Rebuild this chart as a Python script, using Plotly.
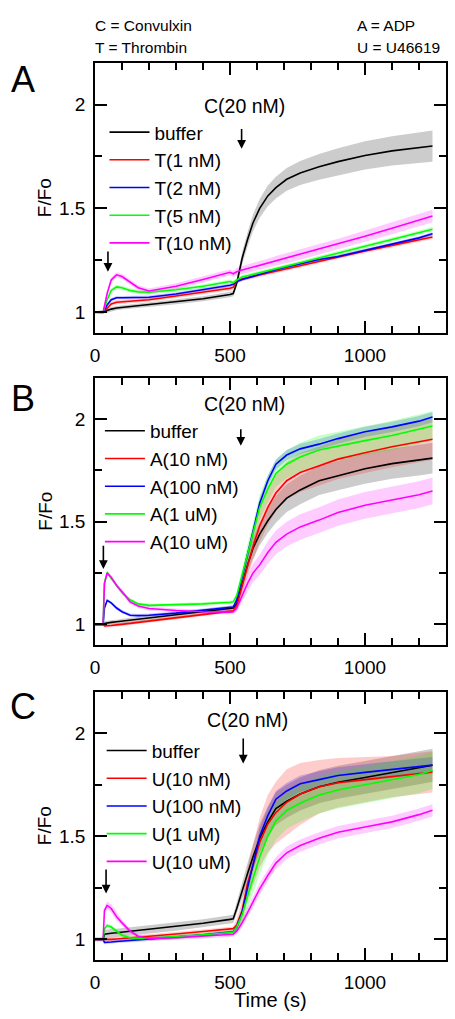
import plotly.graph_objects as go

# ---------------- data ----------------
time_s = [0, 30, 35, 45, 60, 80, 100, 130, 160, 200, 300, 400, 500, 512, 525, 545,
          565, 585, 610, 640, 670, 710, 760, 830, 900, 1000, 1100, 1200, 1250]

# Panel A : Thrombin pre-treatment
a_buffer = [1.0, 1.0, 1.003, 1.008, 1.015, 1.02, 1.023, 1.028, 1.032, 1.037, 1.05, 1.065, 1.085, 1.09,
            1.14, 1.26, 1.35, 1.43, 1.50, 1.56, 1.60, 1.64, 1.67, 1.70, 1.725, 1.755, 1.777, 1.792, 1.80]
a_buffer_sd = [0.005, 0.005, 0.008, 0.01, 0.01, 0.01, 0.01, 0.01, 0.01, 0.01, 0.012, 0.012, 0.013, 0.013,
               0.02, 0.03, 0.035, 0.04, 0.045, 0.05, 0.052, 0.055, 0.058, 0.062, 0.065, 0.068, 0.07, 0.073, 0.075]
a_t1 = [1.0, 1.0, 1.005, 1.02, 1.04, 1.048, 1.05, 1.053, 1.056, 1.06, 1.078, 1.095, 1.115, 1.12,
        1.15, 1.16, 1.166, 1.172, 1.18, 1.189, 1.198, 1.21, 1.225, 1.246, 1.268, 1.295, 1.322, 1.348, 1.362]
a_t1_sd = [0.005] + [0.01] * 28
a_t2 = [1.0, 1.0, 1.01, 1.035, 1.06, 1.07, 1.07, 1.07, 1.07, 1.072, 1.088, 1.108, 1.13, 1.135,
        1.148, 1.158, 1.166, 1.174, 1.184, 1.195, 1.205, 1.218, 1.234, 1.254, 1.268, 1.297, 1.327, 1.358, 1.378]
a_t2_sd = [0.005] + [0.008] * 28
a_t5 = [1.0, 1.0, 1.02, 1.06, 1.105, 1.122, 1.118, 1.105, 1.098, 1.096, 1.108, 1.125, 1.148, 1.142,
        1.155, 1.17, 1.176, 1.182, 1.19, 1.20, 1.21, 1.222, 1.238, 1.262, 1.284, 1.318, 1.35, 1.383, 1.40]
a_t5_sd = [0.005] + [0.01] * 28
a_t10 = [1.0, 1.0, 1.03, 1.09, 1.155, 1.18, 1.172, 1.145, 1.118, 1.102, 1.125, 1.158, 1.192, 1.185,
         1.195, 1.203, 1.21, 1.217, 1.226, 1.236, 1.247, 1.261, 1.278, 1.303, 1.328, 1.366, 1.404, 1.443, 1.463]
a_t10_sd = [0.005, 0.005, 0.01, 0.012, 0.012, 0.012, 0.012, 0.012, 0.012, 0.012, 0.015, 0.015, 0.015, 0.015,
            0.018, 0.02, 0.02, 0.02, 0.022, 0.022, 0.024, 0.024, 0.025, 0.025, 0.026, 0.027, 0.028, 0.03, 0.03]

# Panel B : ADP pre-treatment
b_buffer = [1.0, 1.0, 1.005, 1.008, 1.01, 1.013, 1.016, 1.02, 1.024, 1.03, 1.045, 1.062, 1.078, 1.08,
            1.10, 1.20, 1.29, 1.37, 1.44, 1.505, 1.56, 1.615, 1.655, 1.70, 1.725, 1.758, 1.783, 1.80, 1.81]
b_buffer_sd = [0.005, 0.005, 0.01, 0.01, 0.01, 0.01, 0.012, 0.012, 0.012, 0.012, 0.012, 0.012, 0.012, 0.012,
               0.02, 0.03, 0.04, 0.05, 0.055, 0.06, 0.065, 0.068, 0.07, 0.07, 0.072, 0.073, 0.074, 0.075, 0.075]
b_a10n = [1.0, 1.0, 0.993, 0.993, 0.995, 0.998, 1.0, 1.005, 1.01, 1.016, 1.032, 1.048, 1.064, 1.066,
          1.09, 1.19, 1.29, 1.38, 1.48, 1.57, 1.64, 1.70, 1.74, 1.772, 1.805, 1.836, 1.865, 1.89, 1.902]
b_a10n_sd = [0.005, 0.005, 0.008, 0.008, 0.008, 0.008, 0.008, 0.008, 0.008, 0.008, 0.008, 0.008, 0.008, 0.008,
             0.02, 0.04, 0.06, 0.07, 0.08, 0.085, 0.09, 0.092, 0.095, 0.095, 0.097, 0.098, 0.1, 0.1, 0.1]
b_a100n = [1.0, 1.0, 1.08, 1.117, 1.105, 1.08, 1.062, 1.045, 1.043, 1.045, 1.055, 1.068, 1.08, 1.085,
           1.12, 1.23, 1.34, 1.44, 1.59, 1.70, 1.78, 1.825, 1.855, 1.878, 1.905, 1.938, 1.962, 1.99, 2.01]
b_a100n_sd = [0.005, 0.005, 0.008, 0.008, 0.008, 0.008, 0.008, 0.008, 0.008, 0.008, 0.008, 0.008, 0.008, 0.008,
              0.015, 0.02, 0.025, 0.025, 0.025, 0.025, 0.025, 0.025, 0.025, 0.025, 0.025, 0.025, 0.025, 0.025, 0.025]
b_a1u = [1.0, 1.0, 1.20, 1.253, 1.225, 1.19, 1.155, 1.12, 1.10, 1.093, 1.095, 1.10, 1.108, 1.11,
         1.14, 1.24, 1.34, 1.44, 1.57, 1.66, 1.735, 1.78, 1.815, 1.85, 1.87, 1.895, 1.92, 1.95, 1.966]
b_a1u_sd = [0.005, 0.005, 0.01, 0.01, 0.01, 0.008, 0.008, 0.008, 0.008, 0.008, 0.008, 0.008, 0.008, 0.008,
            0.02, 0.04, 0.05, 0.055, 0.06, 0.065, 0.065, 0.068, 0.07, 0.07, 0.07, 0.07, 0.072, 0.072, 0.072]
b_a10u = [1.0, 1.0, 1.20, 1.25, 1.23, 1.19, 1.16, 1.11, 1.09, 1.078, 1.068, 1.062, 1.06, 1.062,
          1.08, 1.14, 1.20, 1.25, 1.29, 1.35, 1.40, 1.44, 1.475, 1.508, 1.545, 1.58, 1.607, 1.632, 1.65]
b_a10u_sd = [0.005, 0.005, 0.01, 0.01, 0.01, 0.01, 0.01, 0.01, 0.01, 0.01, 0.01, 0.01, 0.01, 0.01,
             0.02, 0.03, 0.04, 0.045, 0.05, 0.055, 0.058, 0.06, 0.062, 0.063, 0.064, 0.065, 0.065, 0.065, 0.065]

# Panel C : U46619 pre-treatment
c_buffer = [1.0, 1.0, 1.025, 1.028, 1.03, 1.032, 1.035, 1.039, 1.043, 1.048, 1.062, 1.078, 1.097, 1.10,
            1.15, 1.24, 1.32, 1.40, 1.49, 1.57, 1.635, 1.67, 1.705, 1.74, 1.762, 1.785, 1.81, 1.832, 1.845]
c_buffer_sd = [0.01, 0.01, 0.02, 0.02, 0.02, 0.02, 0.02, 0.02, 0.02, 0.02, 0.02, 0.02, 0.02, 0.02,
               0.03, 0.04, 0.05, 0.06, 0.07, 0.075, 0.08, 0.08, 0.08, 0.08, 0.08, 0.08, 0.08, 0.08, 0.08]
c_u10n = [1.0, 1.0, 0.997, 0.998, 1.0, 1.002, 1.004, 1.008, 1.011, 1.015, 1.026, 1.038, 1.05, 1.052,
          1.07, 1.14, 1.27, 1.36, 1.47, 1.56, 1.615, 1.665, 1.705, 1.74, 1.76, 1.775, 1.79, 1.805, 1.812]
c_u10n_sd = [0.005, 0.005, 0.01, 0.01, 0.01, 0.01, 0.01, 0.01, 0.01, 0.01, 0.01, 0.01, 0.01, 0.01,
             0.03, 0.05, 0.08, 0.1, 0.12, 0.14, 0.15, 0.16, 0.15, 0.13, 0.12, 0.11, 0.1, 0.1, 0.1]
c_u100n = [1.0, 1.0, 0.985, 0.985, 0.987, 0.99, 0.992, 0.995, 0.998, 1.0, 1.01, 1.022, 1.035, 1.037,
           1.06, 1.13, 1.25, 1.36, 1.50, 1.60, 1.68, 1.72, 1.755, 1.775, 1.795, 1.81, 1.825, 1.838, 1.845]
c_u100n_sd = [0.005, 0.005, 0.008, 0.008, 0.008, 0.008, 0.008, 0.008, 0.008, 0.008, 0.008, 0.008, 0.008, 0.008,
              0.015, 0.02, 0.03, 0.035, 0.04, 0.04, 0.04, 0.04, 0.04, 0.04, 0.04, 0.04, 0.04, 0.04, 0.04]
c_u1u = [1.0, 1.0, 1.05, 1.068, 1.06, 1.04, 1.02, 1.008, 1.005, 1.005, 1.012, 1.022, 1.033, 1.035,
         1.06, 1.12, 1.21, 1.29, 1.40, 1.50, 1.575, 1.625, 1.66, 1.70, 1.725, 1.75, 1.775, 1.80, 1.82]
c_u1u_sd = [0.005, 0.005, 0.01, 0.01, 0.01, 0.01, 0.01, 0.01, 0.01, 0.01, 0.01, 0.01, 0.01, 0.01,
            0.02, 0.04, 0.06, 0.07, 0.08, 0.09, 0.09, 0.09, 0.09, 0.09, 0.09, 0.09, 0.09, 0.09, 0.09]
c_u10u = [1.0, 1.0, 1.14, 1.165, 1.15, 1.11, 1.08, 1.04, 1.015, 1.005, 1.008, 1.015, 1.022, 1.025,
          1.04, 1.08, 1.13, 1.18, 1.245, 1.31, 1.37, 1.42, 1.455, 1.49, 1.52, 1.545, 1.57, 1.605, 1.626]
c_u10u_sd = [0.005, 0.005, 0.015, 0.02, 0.02, 0.02, 0.015, 0.012, 0.01, 0.01, 0.01, 0.01, 0.01, 0.01,
             0.015, 0.02, 0.025, 0.025, 0.028, 0.028, 0.03, 0.03, 0.03, 0.03, 0.03, 0.03, 0.03, 0.03, 0.03]

labels_a = ["buffer", "T(1 nM)", "T(2 nM)", "T(5 nM)", "T(10 nM)"]
labels_b = ["buffer", "A(10 nM)", "A(100 nM)", "A(1 uM)", "A(10 uM)"]
labels_c = ["buffer", "U(10 nM)", "U(100 nM)", "U(1 uM)", "U(10 uM)"]

x_ticks = [0, 500, 1000]
y_ticks = [1, 1.5, 2]
y_ticktext = ["1", "1.5", "2"]

# ---------------- style ----------------
line_colors = ["#000000", "#ff0000", "#0000ff", "#00ff00", "#ff00ff"]
band_colors = ["rgba(0,0,0,0.2)", "rgba(255,0,0,0.2)", "rgba(0,0,255,0.2)",
               "rgba(0,255,0,0.22)", "rgba(255,0,255,0.2)"]
FONT = "Liberation Sans, Arial, sans-serif"

panels = [
    ("x", "y", "legend", labels_a,
     [(a_buffer, a_buffer_sd), (a_t1, a_t1_sd), (a_t2, a_t2_sd), (a_t5, a_t5_sd), (a_t10, a_t10_sd)]),
    ("x2", "y2", "legend2", labels_b,
     [(b_buffer, b_buffer_sd), (b_a10n, b_a10n_sd), (b_a100n, b_a100n_sd), (b_a1u, b_a1u_sd), (b_a10u, b_a10u_sd)]),
    ("x3", "y3", "legend3", labels_c,
     [(c_buffer, c_buffer_sd), (c_u10n, c_u10n_sd), (c_u100n, c_u100n_sd), (c_u1u, c_u1u_sd), (c_u10u, c_u10u_sd)]),
]

fig = go.Figure()
for xa, ya, lg, labels, series in panels:
    # shaded SD bands first
    for i, (m, sd) in enumerate(series):
        upper = [v + s for v, s in zip(m, sd)]
        lower = [v - s for v, s in zip(m, sd)]
        fig.add_trace(go.Scatter(
            x=time_s + time_s[::-1], y=upper + lower[::-1],
            fill="toself", fillcolor=band_colors[i], line=dict(width=0),
            mode="lines", hoverinfo="skip", showlegend=False, xaxis=xa, yaxis=ya))
    for i, (m, sd) in enumerate(series):
        fig.add_trace(go.Scatter(
            x=time_s, y=m, mode="lines", name=labels[i],
            line=dict(color=line_colors[i], width=1.6),
            xaxis=xa, yaxis=ya, legend=lg))

# axes
domains = [[0.699, 1.0], [0.3512, 0.6488], [0.0, 0.2988]]
for k in range(3):
    sx = "" if k == 0 else str(k + 1)
    common = dict(showline=True, linecolor="black", linewidth=1.6, mirror="allticks",
                  ticks="inside", tickcolor="black", tickwidth=1.6, ticklen=12,
                  showgrid=False, zeroline=False,
                  tickfont=dict(family=FONT, size=19, color="black"))
    fig.layout["xaxis" + sx] = dict(common, range=[0, 1300], tickvals=x_ticks,
                                    anchor="y" + sx, domain=[0, 1],
                                    ticklabelstandoff=4,
                                    minor=dict(dtick=100, tick0=0, ticks="inside", ticklen=7,
                                               tickwidth=1.6, tickcolor="black"))
    fig.layout["yaxis" + sx] = dict(common, range=[0.9, 2.2], tickvals=y_ticks, ticktext=y_ticktext,
                                    anchor="x" + sx, domain=domains[k],
                                    ticklabelstandoff=4,
                                    minor=dict(dtick=0.25, tick0=0, ticks="inside", ticklen=7,
                                               tickwidth=1.6, tickcolor="black"))

# legends
leg_common = dict(font=dict(family=FONT, size=19, color="black"), bgcolor="rgba(0,0,0,0)",
                  xanchor="left", yanchor="top", itemwidth=40, traceorder="normal",
                  borderwidth=0)
fig.layout.legend = dict(leg_common, x=0.027, y=0.944)
fig.layout.legend2 = dict(leg_common, x=0.014, y=0.611)
fig.layout.legend3 = dict(leg_common, x=0.019, y=0.2545)

ann = []
# convulxin markers
for xa, ya, tx, ty, arx, ay0, ay1 in [("x", "y", 552, 1.995, 543, 1.89, 1.787),
                                       ("x2", "y2", 555, 2.073, 540, 1.958, 1.87),
                                       ("x3", "y3", 564, 2.063, 549, 1.982, 1.853)]:
    ann.append(dict(xref=xa, yref=ya, x=tx, y=ty, text="C(20 nM)", showarrow=False,
                    font=dict(family=FONT, size=19.5, color="black")))
    ann.append(dict(xref=xa, yref=ya, axref=xa, ayref=ya, x=arx, y=ay1, ax=arx, ay=ay0,
                    text="", showarrow=True, arrowhead=2, arrowsize=1.1, arrowwidth=1.6,
                    arrowcolor="black"))
# pre-treatment markers
for xa, ya, arx, ay0, ay1 in [("x", "y", 48, 1.30, 1.195), ("x2", "y2", 31, 1.39, 1.27),
                              ("x3", "y3", 41, 1.346, 1.222)]:
    ann.append(dict(xref=xa, yref=ya, axref=xa, ayref=ya, x=arx, y=ay1, ax=arx, ay=ay0,
                    text="", showarrow=True, arrowhead=2, arrowsize=1.1, arrowwidth=1.6,
                    arrowcolor="black"))
# panel letters and y titles
for letter, ly, dom in [("A", 0.982, domains[0]), ("B", 0.6264, domains[1]), ("C", 0.2826, domains[2])]:
    ann.append(dict(xref="paper", yref="paper", x=-0.205, y=ly, text=letter, showarrow=False,
                    xanchor="center", yanchor="middle", font=dict(family=FONT, size=36, color="black")))
    ann.append(dict(xref="paper", yref="paper", x=-0.142, y=(dom[0] + dom[1]) / 2, text="F/Fo",
                    textangle=-90, showarrow=False, xanchor="center", yanchor="middle",
                    font=dict(family=FONT, size=19, color="black")))
ann.append(dict(xref="paper", yref="paper", x=0.5, y=-0.0446, text="Time (s)", showarrow=False,
                xanchor="center", yanchor="middle", font=dict(family=FONT, size=20, color="black")))
# header
for txt, x, y, xa in [("C = Convulxin", -0.006, 1.0413, "left"), ("T = Thrombin", -0.006, 1.0178, "left"),
                      ("A = ADP", 0.7407, 1.0413, "left"), ("U = U46619", 0.7407, 1.0178, "left")]:
    ann.append(dict(xref="paper", yref="paper", x=x, y=y, text=txt, showarrow=False,
                    xanchor=xa, yanchor="middle", font=dict(family=FONT, size=15.5, color="black")))

fig.update_layout(width=455, height=1019, margin=dict(l=95, r=9, t=63, b=59, autoexpand=False),
                  paper_bgcolor="white", plot_bgcolor="white", annotations=ann,
                  font=dict(family=FONT, color="black"))

fig.write_html("out.html", config={"displayModeBar": False},
               post_script="document.body.style.margin='0px';document.body.style.overflow='hidden';")
